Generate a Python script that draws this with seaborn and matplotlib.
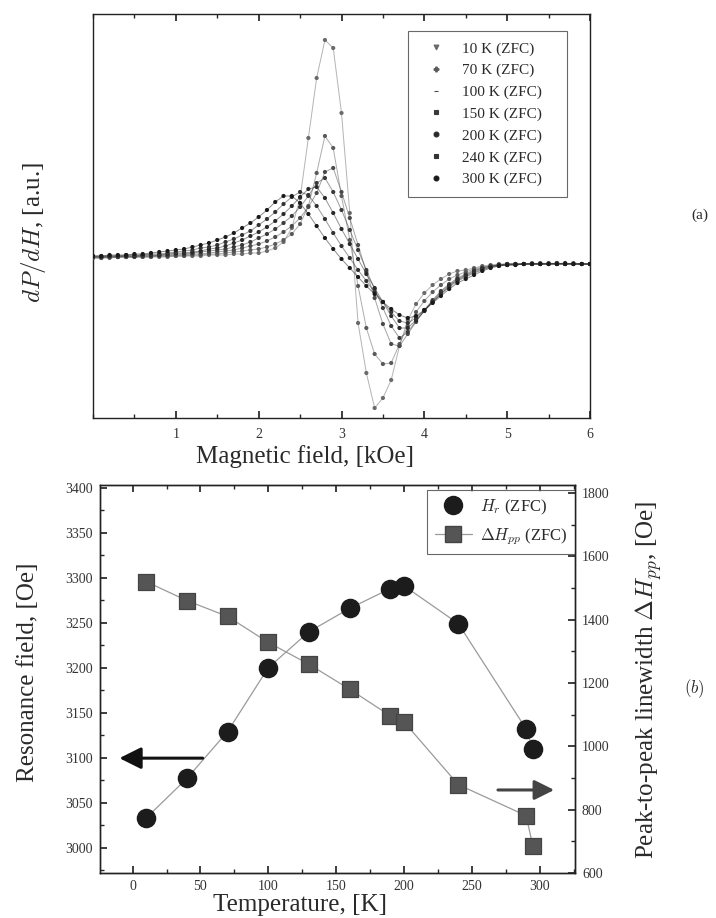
import numpy as np
import pandas as pd
import matplotlib
matplotlib.use("Agg")
import matplotlib.pyplot as plt
from matplotlib.lines import Line2D
from matplotlib.ticker import MultipleLocator
import seaborn as sns

# ---------------- data: panel (a) ----------------
field_kOe = [round(0.1 * i, 1) for i in range(61)]

curve_labels = ["10 K (ZFC)", "70 K (ZFC)", "100 K (ZFC)", "150 K (ZFC)",
                "200 K (ZFC)", "240 K (ZFC)", "300 K (ZFC)"]

d_10K = [0.00, 0.00, 0.00, 0.01, 0.01, 0.01, 0.01, 0.01, 0.01, 0.01,
         0.02, 0.02, 0.02, 0.02, 0.03, 0.03, 0.03, 0.04, 0.04, 0.05,
         0.05, 0.07, 0.10, 0.16, 0.30, 0.60, 1.20, 1.80, 2.18, 2.10,
         1.45, 0.45, -0.65, -1.15, -1.50, -1.40, -1.22, -0.88, -0.62, -0.46,
         -0.35, -0.27, -0.21, -0.16, -0.13, -0.12, -0.10, -0.08, -0.07, -0.06,
         -0.06, -0.06, -0.06, -0.05, -0.06, -0.06, -0.05, -0.06, -0.06, -0.06, -0.06]
d_70K = [0.00, 0.00, 0.01, 0.01, 0.01, 0.01, 0.01, 0.01, 0.02, 0.02,
         0.02, 0.02, 0.03, 0.03, 0.04, 0.04, 0.05, 0.06, 0.07, 0.08,
         0.09, 0.11, 0.14, 0.18, 0.24, 0.34, 0.52, 0.85, 1.22, 1.10,
         0.62, 0.18, -0.28, -0.70, -0.96, -1.06, -1.05, -0.86, -0.68, -0.54,
         -0.43, -0.34, -0.27, -0.21, -0.17, -0.14, -0.11, -0.09, -0.08, -0.07,
         -0.06, -0.06, -0.06, -0.06, -0.05, -0.06, -0.06, -0.06, -0.05, -0.06, -0.06]
d_100K = [0.01, 0.01, 0.01, 0.01, 0.01, 0.01, 0.02, 0.02, 0.02, 0.02,
          0.03, 0.03, 0.04, 0.04, 0.05, 0.06, 0.07, 0.08, 0.10, 0.12,
          0.14, 0.17, 0.21, 0.26, 0.32, 0.40, 0.51, 0.65, 0.86, 0.90,
          0.66, 0.40, 0.13, -0.14, -0.40, -0.66, -0.86, -0.88, -0.76, -0.64,
          -0.52, -0.42, -0.33, -0.26, -0.20, -0.16, -0.12, -0.10, -0.08, -0.07,
          -0.06, -0.06, -0.06, -0.06, -0.06, -0.05, -0.06, -0.06, -0.06, -0.06, -0.06]
d_150K = [0.01, 0.01, 0.01, 0.01, 0.02, 0.02, 0.02, 0.02, 0.03, 0.03,
          0.04, 0.04, 0.05, 0.06, 0.07, 0.08, 0.09, 0.11, 0.13, 0.16,
          0.20, 0.24, 0.29, 0.35, 0.42, 0.51, 0.62, 0.75, 0.80, 0.66,
          0.48, 0.28, 0.08, -0.12, -0.31, -0.50, -0.68, -0.80, -0.74, -0.63,
          -0.53, -0.43, -0.34, -0.27, -0.21, -0.17, -0.13, -0.10, -0.08, -0.07,
          -0.06, -0.06, -0.06, -0.06, -0.06, -0.06, -0.05, -0.06, -0.06, -0.06, -0.06]
d_200K = [0.01, 0.01, 0.02, 0.02, 0.02, 0.02, 0.03, 0.03, 0.03, 0.04,
          0.05, 0.05, 0.06, 0.07, 0.09, 0.10, 0.12, 0.15, 0.18, 0.22,
          0.26, 0.31, 0.37, 0.44, 0.52, 0.61, 0.69, 0.71, 0.60, 0.45,
          0.29, 0.14, -0.01, -0.16, -0.30, -0.44, -0.58, -0.70, -0.70, -0.62,
          -0.53, -0.44, -0.36, -0.28, -0.22, -0.18, -0.14, -0.11, -0.09, -0.07,
          -0.07, -0.06, -0.06, -0.06, -0.06, -0.06, -0.06, -0.05, -0.06, -0.06, -0.06]
d_240K = [0.02, 0.02, 0.02, 0.02, 0.03, 0.03, 0.03, 0.04, 0.04, 0.05,
          0.06, 0.07, 0.08, 0.10, 0.11, 0.13, 0.16, 0.19, 0.23, 0.27,
          0.33, 0.39, 0.46, 0.54, 0.61, 0.66, 0.63, 0.52, 0.39, 0.25,
          0.12, 0.00, -0.12, -0.23, -0.34, -0.44, -0.54, -0.63, -0.65, -0.60,
          -0.52, -0.44, -0.36, -0.29, -0.23, -0.19, -0.15, -0.12, -0.09, -0.08,
          -0.07, -0.07, -0.06, -0.06, -0.06, -0.06, -0.06, -0.06, -0.06, -0.06, -0.06]
d_300K = [0.02, 0.02, 0.03, 0.03, 0.03, 0.04, 0.04, 0.05, 0.06, 0.07,
          0.08, 0.09, 0.11, 0.13, 0.15, 0.18, 0.21, 0.25, 0.30, 0.35,
          0.41, 0.48, 0.56, 0.62, 0.62, 0.55, 0.44, 0.32, 0.20, 0.09,
          -0.01, -0.10, -0.19, -0.28, -0.36, -0.44, -0.51, -0.57, -0.60, -0.58,
          -0.52, -0.45, -0.38, -0.31, -0.25, -0.21, -0.17, -0.13, -0.10, -0.08,
          -0.07, -0.07, -0.06, -0.06, -0.06, -0.06, -0.06, -0.06, -0.06, -0.06, -0.06]

# ---------------- data: panel (b) ----------------
temperature_K = [10, 40, 70, 100, 130, 160, 190, 200, 240, 290, 295]
resonance_field_Oe = [3033, 3077, 3129, 3200, 3240, 3266, 3288, 3291, 3249, 3132, 3110]
linewidth_Oe = [1520, 1460, 1410, 1328, 1259, 1180, 1096, 1077, 879, 781, 684]

# ---------------- style ----------------
sns.set_theme(style="ticks")
plt.rcParams["font.family"] = ["Liberation Serif", "DejaVu Serif"]
plt.rcParams["mathtext.fontset"] = "cm"
plt.rcParams["xtick.direction"] = "in"
plt.rcParams["ytick.direction"] = "in"
plt.rcParams["axes.edgecolor"] = "#222222"
plt.rcParams["axes.linewidth"] = 1.0
plt.rcParams["text.color"] = "#2a2a2a"
plt.rcParams["axes.labelcolor"] = "#2a2a2a"
plt.rcParams["xtick.labelcolor"] = "#333333"
plt.rcParams["ytick.labelcolor"] = "#333333"

W, Hpx = 716, 918
fig = plt.figure(figsize=(W / 100, Hpx / 100), dpi=100)

def fr(l, t, r, b):
    return [l / W, 1 - b / Hpx, (r - l) / W, (b - t) / Hpx]

LABEL_FS = 18
TICK_FS = 10

# ---------------- panel (a) ----------------
ax1 = fig.add_axes(fr(93, 14, 590, 418))
curves = [d_10K, d_70K, d_100K, d_150K, d_200K, d_240K, d_300K]
markers = ["v", "P", "_", "s", "o", "s", "o"]
colors = ["#6a6a6a", "#5a5a5a", "#4a4a4a", "#3a3a3a", "#2a2a2a", "#333333", "#1a1a1a"]
rows = []
for lab, vals in zip(curve_labels, curves):
    for h, v in zip(field_kOe, vals):
        rows.append({"H": h, "dPdH": v, "T": lab})
df_a = pd.DataFrame(rows)
handles = []
for lab, mk, col in zip(curve_labels, markers, colors):
    sub = df_a[df_a["T"] == lab]
    sns.lineplot(data=sub, x="H", y="dPdH", ax=ax1, color=col, lw=0.7, alpha=0.5,
                 legend=False)
    sns.scatterplot(data=sub, x="H", y="dPdH", ax=ax1, color=col, s=9,
                    edgecolor="none", legend=False, zorder=3)
    handles.append(Line2D([], [], ls="none", marker=mk, color=col,
                          markersize=3.5, markeredgewidth=0.8))
ax1.set_xlim(0, 6)
ax1.set_ylim(-1.60, 2.44)
ax1.set_xticks([1, 2, 3, 4, 5, 6])
ax1.xaxis.set_minor_locator(MultipleLocator(0.5))
ax1.set_yticks([])
ax1.tick_params(axis="x", which="major", length=5, labelsize=TICK_FS, pad=7, top=True)
ax1.tick_params(axis="x", which="minor", length=3, top=True)
ax1.set_xlabel("Magnetic field, [kOe]", fontsize=LABEL_FS)
ax1.xaxis.set_label_coords(0.427, -0.068)
ax1.set_ylabel(r"$dP/dH$, [a.u.]", fontsize=LABEL_FS)
ax1.yaxis.set_label_coords(-0.09, 0.458)
leg1 = ax1.legend(handles, curve_labels, loc="upper left",
                  bbox_to_anchor=(0.634, 0.0, 0.320, 0.958), mode="expand",
                  fontsize=11, frameon=True,
                  fancybox=False, edgecolor="#444444", labelspacing=0.52,
                  handlelength=2.2, handletextpad=0.6, borderpad=0.7,
                  borderaxespad=0)
leg1.get_frame().set_linewidth(0.8)

# ---------------- panel (b) ----------------
ax2 = fig.add_axes(fr(100, 485, 575, 873))
ax3 = ax2.twinx()
df_b = pd.DataFrame({"T": temperature_K, "Hr": resonance_field_Oe,
                     "dHpp": linewidth_Oe})
sns.lineplot(data=df_b, x="T", y="Hr", ax=ax2, color="#9a9a9a", lw=0.9)
sns.scatterplot(data=df_b, x="T", y="Hr", ax=ax2, color="#1c1c1c",
                marker="o", s=170, edgecolor="#1c1c1c", zorder=5)
sns.lineplot(data=df_b, x="T", y="dHpp", ax=ax3, color="#9a9a9a", lw=0.9)
sns.scatterplot(data=df_b, x="T", y="dHpp", ax=ax3, color="#555555",
                marker="s", s=125, edgecolor="#444444", zorder=5)

ax2.set_xlim(-24, 326)
ax2.set_ylim(2972, 3403)
ax3.set_ylim(600, 1825)
ax2.set_xticks([0, 50, 100, 150, 200, 250, 300])
ax2.xaxis.set_minor_locator(MultipleLocator(25))
ax2.set_yticks(list(range(3000, 3401, 50)))
ax2.yaxis.set_minor_locator(MultipleLocator(25))
ax3.set_yticks(list(range(600, 1801, 200)))
ax3.yaxis.set_minor_locator(MultipleLocator(100))
ax2.tick_params(axis="both", which="major", length=5, labelsize=TICK_FS, pad=5)
ax2.tick_params(axis="x", which="both", top=True)
ax2.tick_params(which="minor", length=3)
ax3.tick_params(axis="y", which="major", length=5, labelsize=TICK_FS, pad=5)
ax3.tick_params(axis="y", which="minor", length=3)
ax2.set_xlabel("Temperature, [K]", fontsize=LABEL_FS)
ax2.xaxis.set_label_coords(0.421, -0.055)
ax2.set_ylabel("Resonance field, [Oe]", fontsize=LABEL_FS)
ax2.yaxis.set_label_coords(-0.128, 0.518)
ax3.set_ylabel(r"Peak-to-peak linewidth $\Delta H_{pp}$, [Oe]", fontsize=LABEL_FS)
ax3.yaxis.set_label_coords(1.122, 0.497)

h_r = Line2D([], [], ls="none", marker="o", color="#1c1c1c", markersize=13)
h_pp = Line2D([], [], ls="-", lw=0.9, color="#9a9a9a", marker="s",
              markerfacecolor="#555555", markeredgecolor="#444444", markersize=11)
leg2 = ax2.legend([h_r, h_pp], [r"$H_r$ (ZFC)", r"$\Delta H_{pp}$ (ZFC)"],
                  loc="upper right", bbox_to_anchor=(1.0, 0.987), fontsize=12,
                  frameon=True, fancybox=False, edgecolor="#444444",
                  labelspacing=0.55, handlelength=2.2, handletextpad=0.5,
                  borderpad=0.45, borderaxespad=0)
leg2.get_frame().set_linewidth(0.8)
leg2.set_zorder(10)

ax2.annotate("", xy=(0.035, 0.296), xytext=(0.222, 0.296),
             xycoords="axes fraction",
             arrowprops=dict(arrowstyle="-|>,head_length=1.1,head_width=0.55",
                             color="#111111", lw=2.2))
ax2.annotate("", xy=(0.962, 0.214), xytext=(0.832, 0.214),
             xycoords="axes fraction",
             arrowprops=dict(arrowstyle="-|>,head_length=1.0,head_width=0.5",
                             color="#444444", lw=2.2))

fig.text(0.978, 0.766, "(a)", fontsize=11, ha="center", va="center")
fig.text(0.970, 0.250, r"$(b)$", fontsize=12, ha="center", va="center")

fig.savefig("out.png", dpi=100)
